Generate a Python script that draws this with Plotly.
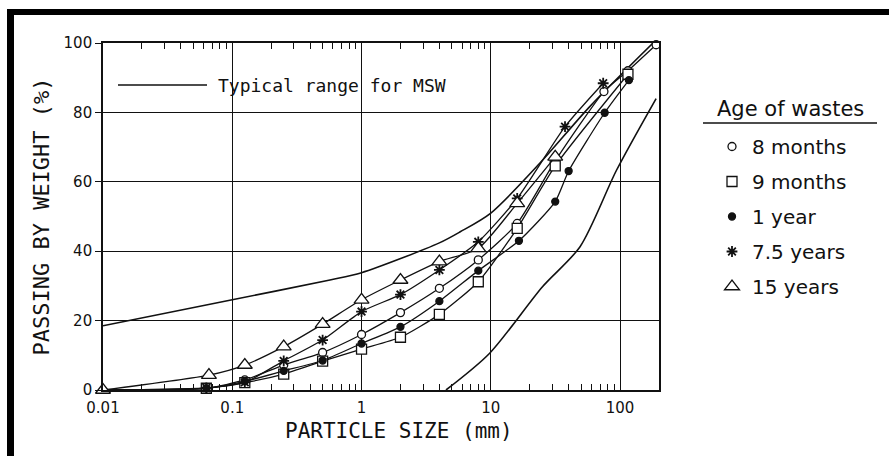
import plotly.graph_objects as go

# Particle size (mm) / percent passing by weight for each waste age
m8_x = [0.01, 0.063, 0.125, 0.25, 0.5, 1, 2, 4, 8, 16, 31.5, 75, 115, 190]
m8_y = [0, 0.5, 2.9, 7.2, 10.8, 16, 22.3, 29.3, 37.5, 48, 66, 86, 92, 99.5]

m9_x = [0.01, 0.063, 0.125, 0.25, 0.5, 1, 2, 4, 8, 16, 31.5, 115]
m9_y = [0, 0.5, 2.1, 4.6, 8.3, 11.8, 15.2, 21.8, 31.2, 46.6, 64.6, 91]

y1_x = [0.01, 0.063, 0.125, 0.25, 0.5, 1, 2, 4, 8, 16.5, 31.5, 40, 76, 117]
y1_y = [0, 0.5, 2.5, 5.5, 8.5, 13.4, 18.2, 25.6, 34.4, 43, 54.3, 63.1, 79.9, 89.3]

y75_x = [0.01, 0.063, 0.125, 0.25, 0.5, 1, 2, 4, 8, 16, 37.5, 74]
y75_y = [0, 0.6, 2.2, 8.4, 14.4, 22.6, 27.5, 34.6, 42.7, 55.2, 75.9, 88.4]

y15_x = [0.01, 0.066, 0.125, 0.25, 0.5, 1, 2, 4, 8, 16, 31.5]
y15_y = [0, 4.3, 7.2, 12.5, 19, 26, 31.7, 37, 40.8, 53.8, 67.2]

# Typical range for municipal solid waste (upper and lower bounds)
msw_hi_x = [0.01, 0.1, 0.57, 1, 4, 5.8, 10, 24, 58, 180]
msw_hi_y = [18.5, 26, 31.7, 33.8, 42.4, 45.6, 51, 65.4, 81.6, 100]
msw_lo_x = [4.5, 9.8, 25, 49, 94, 190]
msw_lo_y = [0, 10.6, 29.7, 41.3, 63.4, 84]

series_names = ["8 months", "9 months", "1 year", "7.5 years", "15 years"]
series_x = [m8_x, m9_x, y1_x, y75_x, y15_x]
series_y = [m8_y, m9_y, y1_y, y75_y, y15_y]
# first plotted marker of each series (earlier points only anchor the curve at the origin)
first_marker = [1, 1, 1, 1, 0]

x_ticks = [0.01, 0.1, 1, 10, 100]
x_tick_text = ["0.01", "0.1", "1", "10", "100"]
y_ticks = [0, 20, 40, 60, 80, 100]

INK = "#111111"
FONT = "DejaVu Sans"
MONO = "DejaVu Sans Mono"

# (symbol, size, fill, outline width) per series
styles = [("circle", 8, "white", 1.3), ("square", 10, "white", 1.3), ("circle", 7, INK, 1.3),
          ("asterisk-open", 9, INK, 1.8), ("triangle-up", 13, "white", 1.3)]

fig = go.Figure()

for xs, ys in [(msw_hi_x, msw_hi_y), (msw_lo_x, msw_lo_y)]:
    fig.add_trace(go.Scatter(x=xs, y=ys, mode="lines", showlegend=False,
                             line=dict(color=INK, width=1.6, shape="spline", smoothing=0.8),
                             hoverinfo="skip"))

for name, xs, ys, (sym, sz, fill, lw), k in zip(series_names, series_x, series_y, styles, first_marker):
    fig.add_trace(go.Scatter(x=xs, y=ys, mode="lines", legendgroup=name, showlegend=False,
                             line=dict(color=INK, width=1.3, shape="spline", smoothing=0.6),
                             hoverinfo="skip"))
    fig.add_trace(go.Scatter(x=xs[k:], y=ys[k:], mode="markers", name=name, legendgroup=name,
                             cliponaxis=False,
                             marker=dict(symbol=sym, size=sz, color=fill,
                                         line=dict(color=INK, width=lw))))

minor_vals = [k * 10 ** e for e in range(-2, 3) for k in range(2, 10) if k * 10 ** e <= 200]

fig.update_xaxes(type="log", range=[-2, 2.301], tickvals=x_ticks, ticktext=x_tick_text,
                 showgrid=True, gridcolor=INK, gridwidth=1.4,
                 showline=True, linecolor=INK, linewidth=1.6, mirror="allticks",
                 ticks="inside", ticklen=0, tickcolor=INK, ticklabelstandoff=3,
                 minor=dict(tickvals=minor_vals, ticks="inside", ticklen=6, tickcolor=INK,
                            tickwidth=1.2, showgrid=False),
                 tickfont=dict(family=FONT, size=15, color=INK),
                 zeroline=False)
fig.update_yaxes(range=[0, 100], tickvals=y_ticks, showgrid=True, gridcolor=INK, gridwidth=1.4,
                 showline=True, linecolor=INK, linewidth=1.6, mirror=True,
                 ticks="outside", ticklen=6, tickcolor=INK, tickwidth=1.4,
                 tickfont=dict(family=FONT, size=15, color=INK),
                 title=dict(text="PASSING BY WEIGHT (%)", font=dict(family=MONO, size=22, color=INK),
                            standoff=8),
                 zeroline=False)

L, R, T, B = 103, 230, 43, 66
W, H = 889, 456
pw, ph = W - L - R, H - T - B


def px(xp):
    return (xp - L) / pw


def py(yp):
    return (H - B - yp) / ph


shapes = [
    # frame bands along the top and left edges
    dict(type="rect", xref="paper", yref="paper", x0=px(7), x1=px(889), y0=py(15), y1=py(9),
         fillcolor="black", line=dict(width=0), layer="above"),
    dict(type="rect", xref="paper", yref="paper", x0=px(7), x1=px(14), y0=py(456), y1=py(9),
         fillcolor="black", line=dict(width=0), layer="above"),
    # key line for the typical range
    dict(type="line", xref="paper", yref="paper", x0=px(118), x1=px(207), y0=py(85), y1=py(85),
         line=dict(color=INK, width=1.6)),
    # underline of the legend heading
    dict(type="line", xref="paper", yref="paper", x0=px(703), x1=px(877), y0=py(123), y1=py(123),
         line=dict(color=INK, width=1.4)),
]

annotations = [
    dict(text="Typical range for MSW", xref="paper", yref="paper", x=px(216), y=py(85),
         xanchor="left", yanchor="middle", showarrow=False,
         font=dict(family=MONO, size=18, color=INK)),
    dict(text="Age of wastes", xref="paper", yref="paper", x=px(790), y=py(109),
         xanchor="center", yanchor="middle", showarrow=False,
         font=dict(family=FONT, size=21, color=INK)),
    dict(text="PARTICLE SIZE (mm)", xref="paper", yref="paper", x=px(399), y=py(431),
         xanchor="center", yanchor="middle", showarrow=False,
         font=dict(family=MONO, size=21, color=INK)),
]

fig.update_layout(
    width=W, height=H, margin=dict(l=L, r=R, t=T, b=B),
    paper_bgcolor="white", plot_bgcolor="white",
    shapes=shapes, annotations=annotations,
    legend=dict(x=px(712), y=py(127), xanchor="left", yanchor="top",
                font=dict(family=FONT, size=20, color=INK), tracegroupgap=6,
                bgcolor="rgba(0,0,0,0)", itemsizing="trace"),
)

fig.write_html("out.html")
